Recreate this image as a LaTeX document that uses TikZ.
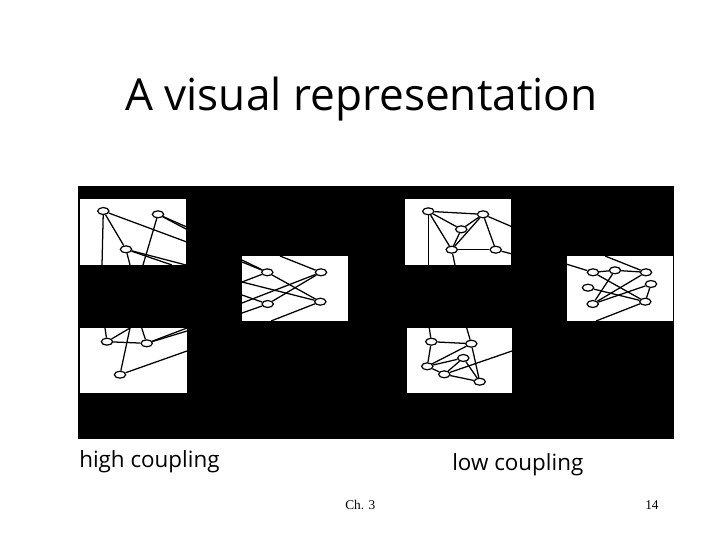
\documentclass[tikz,border=0pt]{standalone}
\usepackage{fontspec}
\usetikzlibrary{shapes.geometric}
\setmainfont{Liberation Serif}
\newfontfamily\handfont{Open Sans}
\tikzset{
  vtx/.style={draw=black,fill=white,ellipse,line width=0.9pt,inner sep=0pt,minimum width=8.5pt,minimum height=5.2pt},
  edge/.style={draw=black,line width=0.95pt},
  panel/.style={draw=none,fill=white,inner sep=0pt,anchor=north west},
  backing/.style={draw=none,fill=black,inner sep=0pt,anchor=north west},
  titletext/.style={inner sep=0pt,anchor=base west,font=\handfont\fontsize{33.1}{36}\selectfont},
  labeltext/.style={inner sep=0pt,anchor=base west,font=\handfont\fontsize{16.8}{20}\selectfont},
  foot/.style={inner sep=0pt,anchor=base west,font=\fontsize{10}{12}\selectfont}
}
\begin{document}
\begin{tikzpicture}[x=0.75pt,y=-0.75pt]
\useasboundingbox (0,0) rectangle (720,540);
\fill[white] (0,0) rectangle (720,540);
\node[titletext] (title) at (125,110) {A visual representation};
\node[backing,minimum width=447pt,minimum height=189.75pt] (back) at (78,186) {};
\node[panel,minimum width=79.5pt,minimum height=49.5pt] (p1) at (80,199) {};
\node[panel,minimum width=80.25pt,minimum height=48.75pt] (p2) at (80,328) {};
\node[panel,minimum width=79.5pt,minimum height=48.75pt] (p3) at (242,256) {};
\node[panel,minimum width=79.5pt,minimum height=49.5pt] (p4) at (405,199) {};
\node[panel,minimum width=79.5pt,minimum height=48.75pt] (p5) at (567,256) {};
\node[panel,minimum width=78.75pt,minimum height=48.75pt] (p6) at (407,328) {};
% graph nodes
\foreach \n/\x/\y in {
  A/103.3/211,B/158/214.3,C/126/249.3,
  D/107/341.7,E/146.7/343.3,F/120/374.7,
  G/267.3/272.3,H/321/272.3,I/267.7/304,J/320.3/301.7,
  K/428.3/211.3,L/483/214.3,M/461.3/229.3,N/451.7/249.7,O/495.7/249.7,
  P/593/272.3,Q/615/270.3,R/646/272.3,S/651/284,T/588/287.7,U/592.7/304,V/645.3/301.7,
  W/431.3/341.7,X/471.3/343.7,Y/463.3/358,Z/427.3/366.3,AA/444.3/374.3,AB/479.7/381.7}
  \node[vtx] (\n) at (\x,\y) {};
% free ends of connectors
\foreach \n/\x/\y in {
  a1/186/241.7,a2/102/265,b1/186/226.7,b2/186/229,b3/143/265,c1/186/265,c2/172/265,c3/130/265,
  d1/105/328,d2/130/328,e1/141.7/328,e2/187/328,e3/187/331,f1/130/328,f2/187/351,
  g1/242/260,g2/242/262,g3/242/282,h1/280/256,h2/242/303,i1/242/295,i2/242/313,j1/271/321,j2/242/282,
  k1/428.3/265,l1/511/226.3,o1/511/253.7,n1/455/265,
  p1e/567/264.3,r1/605/256,v1/596/321,
  w1/429.3/328,x1/466.7/328,aa1/512/351}
  \coordinate (\n) at (\x,\y);
% connectors
\foreach \a/\b in {
  A/a1,A/a2,A/C,B/b1,B/b2,B/b3,C/c1,C/c2,C/c3,
  D/d1,D/d2,D/E,E/e1,E/e2,E/e3,F/f1,F/f2,
  G/g1,G/g2,G/g3,G/J,H/h1,H/h2,H/I,I/i1,I/i2,J/j1,J/j2,
  K/L,K/M,K/N,K/k1,L/M,L/N,L/O,M/N,N/O,L/l1,O/o1,N/n1,
  P/p1e,P/Q,Q/R,R/r1,P/V,Q/U,R/U,S/U,S/V,T/V,V/v1,
  W/w1,X/x1,W/X,W/Z,X/Z,Y/Z,Y/AA,Y/AB,X/AB,Z/AA,AA/AB,AA/aa1}
  \draw[edge] (\a) -- (\b);
\node[labeltext] (high) at (79,467) {high coupling};
\node[labeltext] (low) at (452,470) {low coupling};
\node[foot] (ch) at (345,509) {Ch. 3};
\node[foot] (num) at (645,509) {14};
\end{tikzpicture}
\end{document}
